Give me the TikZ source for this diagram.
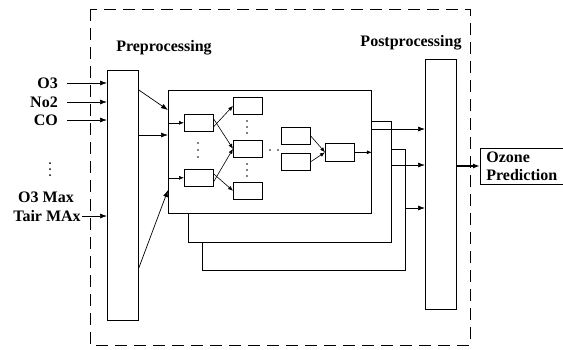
\documentclass[tikz,border=0pt]{standalone}
\usepackage{fontspec}
\setmainfont{Liberation Serif}
\usetikzlibrary{arrows.meta}

\begin{document}
\begin{tikzpicture}[x=1pt, y=-1pt,
    % Define the styles for boxes, labels and arrows
    block/.style={draw, line width=0.8pt, inner sep=0, anchor=north west},
    neuron/.style={draw, line width=0.6pt, inner sep=0, anchor=north west,
        minimum width=29, minimum height=17},
    lbl/.style={font=\fontsize{16}{18}\selectfont\bfseries, inner sep=1pt},
    arr/.style={-{Latex[length=7pt,width=5pt]}, line width=0.7pt},
    sarr/.style={-{Latex[length=5pt,width=4pt]}, line width=0.6pt}
]
\useasboundingbox (0,0) rectangle (563,349);

% Dashed frame
\draw[dash pattern=on 12pt off 7pt, line width=0.7pt] (90,9) rectangle (470,345);

% Titles
\node[lbl] (pretext) at (164,48) {Preprocessing};
\node[lbl] (posttext) at (411,43) {Postprocessing};

% Pre and post blocks
\node[block, minimum width=31, minimum height=250] (pre) at (107,70) {};
\node[block, minimum width=31, minimum height=250] (post) at (425,59) {};

% The networks, back to front
\node[block, fill=white, minimum width=203, minimum height=121] (net3) at (202,149) {};
\node[block, fill=white, minimum width=203, minimum height=121] (net2) at (188,121) {};
\node[block, fill=white, minimum width=203, minimum height=123] (net1) at (168,90) {};

% Inputs
\node[lbl, anchor=east] (o3) at (59,83) {O3};
\node[lbl, anchor=east] (no2) at (59,102) {No2};
\node[lbl, anchor=east] (co) at (59,120) {CO};
\node[lbl] (o3max) at (46,197) {O3 Max};
\node[lbl] (tair) at (47,216) {Tair MAx};
\foreach \y in {163,169,175} \fill (50,\y) circle (1pt);

\foreach \n in {o3,no2,co}
    \draw[arr] ([xshift=8pt]\n.east) -- (\n.east -| pre.west);
\draw[arr] (tair.east) -- (tair.east -| pre.west);

% From pre block to the network
\draw[arr] ([yshift=-20pt]pre.north east) -- ([yshift=-20pt]net1.north west);
\draw[arr] ([yshift=-65pt]pre.north east) -- ([yshift=-45pt]net1.north west);
\draw[arr] ([yshift=-198pt]pre.north east) -- ([yshift=-100pt]net1.north west);

% Neurons
\node[neuron] (A) at (184,114) {};
\node[neuron] (B) at (184,169) {};
\node[neuron] (C) at (233,97) {};
\node[neuron] (D) at (233,140) {};
\node[neuron] (E) at (233,182) {};
\node[neuron] (F) at (281,127) {};
\node[neuron] (G) at (281,153) {};
\node[neuron, minimum height=18] (H) at (325,143) {};

\foreach \n in {A,B}
    \draw[sarr] (\n.west -| net1.west) -- (\n.west);
\draw[sarr] ([yshift=-4pt]A.east) -- (C.west);
\draw[sarr] ([yshift=4pt]A.east) -- (D.west);
\draw[sarr] ([yshift=-4pt]B.east) -- (D.west);
\draw[sarr] ([yshift=4pt]B.east) -- (E.west);
\draw[sarr] (F.east) -- (H.west);
\draw[sarr] (G.east) -- (H.west);
\draw[sarr] (H.east) -- (H.east -| net1.east);

% Dots
\foreach \y in {143,150,157} \fill (198,\y) circle (0.9pt);
\foreach \y in {121,127,133,164,170,176} \fill (247,\y) circle (0.9pt);
\foreach \x in {270,278} \fill (\x,150) circle (0.9pt);

% Outputs to post block
\draw[arr] ([yshift=-39pt]net1.north east) coordinate (n1o) -- (n1o -| post.west);
\draw[arr] ([yshift=-44pt]net2.north east) coordinate (n2o) -- (n2o -| post.west);
\draw[arr] ([yshift=-59pt]net3.north east) coordinate (n3o) -- (n3o -| post.west);

% Prediction
\node[lbl, draw, line width=0.8pt, align=left, inner xsep=6pt, inner ysep=3.5pt,
    anchor=north west] (ozone) at (480,148) {Ozone\\Prediction};
\draw[arr, line width=1.5pt] ([yshift=-107pt]post.north east) coordinate (po) -- (po -| ozone.west);

\end{tikzpicture}
\end{document}
